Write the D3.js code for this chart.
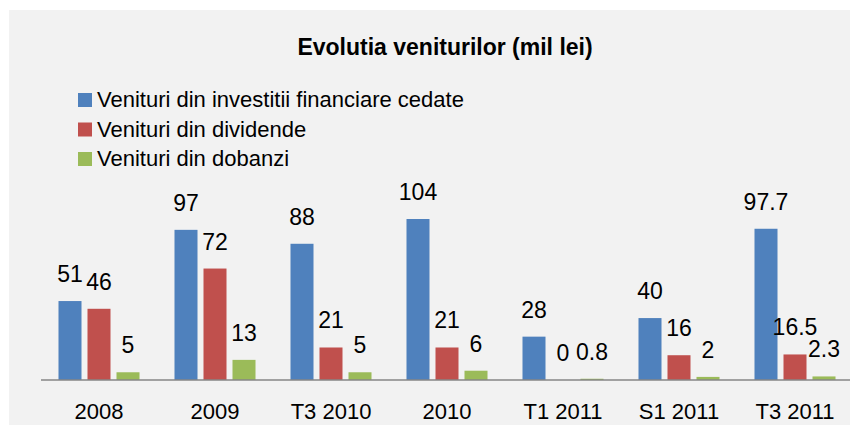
<!DOCTYPE html>
<html>
<head>
<meta charset="utf-8">
<script src="https://cdnjs.cloudflare.com/ajax/libs/d3/7.8.5/d3.min.js"></script>
<style>
  html, body { margin: 0; padding: 0; background: #ffffff; }
  svg { display: block; }
  text { font-family: "Liberation Sans", Arial, sans-serif; fill: #000; }
</style>
</head>
<body>
<svg id="chart" width="850" height="425"></svg>
<script>
const categories = ["2008", "2009", "T3 2010", "2010", "T1 2011", "S1 2011", "T3 2011"];
const seriesNames = ["Venituri din investitii financiare cedate", "Venituri din dividende", "Venituri din dobanzi"];
const investitii = [51, 97, 88, 104, 28, 40, 97.7];
const dividende = [46, 72, 21, 21, 0, 16, 16.5];
const dobanzi = [5, 13, 5, 6, 0.8, 2, 2.3];
const labelsInvestitii = ["51", "97", "88", "104", "28", "40", "97.7"];
const labelsDividende = ["46", "72", "21", "21", "0", "16", "16.5"];
const labelsDobanzi = ["5", "13", "5", "6", "0.8", "2", "2.3"];
const colors = ["#4f81bd", "#c0504d", "#9bbb59"];

const seriesValues = [investitii, dividende, dobanzi];
const seriesLabels = [labelsInvestitii, labelsDividende, labelsDobanzi];

const svg = d3.select("#chart");

svg.append("rect").attr("x", 9).attr("y", 10).attr("width", 850).attr("height", 420).attr("fill", "#f2f2f2");

svg.append("text").attr("x", 445).attr("y", 55).attr("text-anchor", "middle")
  .style("font-size", "23px").style("font-weight", "bold").text("Evolutia veniturilor (mil lei)");

const x0 = d3.scaleBand().domain(categories).range([41, 41 + 116 * categories.length]).paddingInner(0).paddingOuter(0);
const x1 = d3.scaleBand().domain(d3.range(3)).range([0, x0.bandwidth()]).paddingInner(6 / 29).paddingOuter(0.603);
const y = d3.scaleLinear().domain([0, 120]).range([380, 380 - 120 * 1.548]);

// legend
const legend = svg.append("g");
seriesNames.forEach((name, i) => {
  const ly = 107 + i * 29.5;
  legend.append("rect").attr("x", 78).attr("y", ly - 14).attr("width", 14).attr("height", 14).attr("fill", colors[i]);
  legend.append("text").attr("x", 97).attr("y", ly).style("font-size", "22px").text(name);
});

// bars
const groups = svg.selectAll("g.cat").data(categories).enter().append("g")
  .attr("class", "cat").attr("transform", d => `translate(${x0(d)},0)`);

seriesValues.forEach((vals, si) => {
  groups.append("rect")
    .attr("x", x1(si))
    .attr("width", x1.bandwidth())
    .attr("y", (d, ci) => y(vals[ci]))
    .attr("height", (d, ci) => y(0) - y(vals[ci]))
    .attr("fill", colors[si]);
});

// axis line
svg.append("line").attr("x1", 41).attr("x2", 41 + 116 * categories.length).attr("y1", y(0)).attr("y2", y(0))
  .attr("stroke", "#868686").attr("stroke-width", 1.5);

// value labels
seriesValues.forEach((vals, si) => {
  groups.append("text")
    .attr("x", x1(si) + x1.bandwidth() / 2)
    .attr("y", (d, ci) => y(vals[ci]) - 19)
    .attr("text-anchor", "middle")
    .style("font-size", "23px")
    .text((d, ci) => seriesLabels[si][ci]);
});

// category axis labels
const xAxis = d3.axisBottom(x0).tickSize(0).tickPadding(0);
const ax = svg.append("g").attr("transform", `translate(0,${y(0)})`).call(xAxis);
ax.select(".domain").remove();
ax.selectAll("text").attr("y", 0).attr("dy", "39px")
  .style("font-size", "22px").style("font-family", "'Liberation Sans', Arial, sans-serif").attr("fill", "#000");
</script>
</body>
</html>
